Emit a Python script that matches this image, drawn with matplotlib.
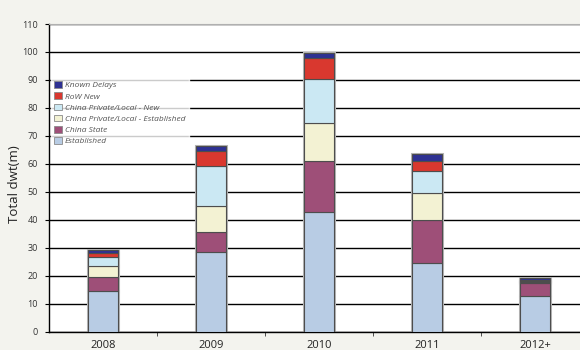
import matplotlib.pyplot as plt
import numpy as np
from matplotlib.patches import Patch

plt.rcParams['font.family'] = ['Open Sans', 'DejaVu Sans']

# Capacity by year, millions dwt
years = ['2008', '2009', '2010', '2011', '2012+']
established = [14.7, 28.4, 42.9, 24.5, 12.8]
china_state = [4.9, 7.3, 18.1, 15.3, 4.6]
china_private_est = [3.9, 9.1, 13.6, 9.8, 0.3]
china_private_new = [3.1, 14.4, 15.8, 8.0, 0.4]
row_new = [1.4, 5.3, 7.4, 3.3, 0.5]
known_delays = [1.2, 1.8, 2.0, 2.8, 0.5]

series = [
    ('Established', established, '#b8cce4'),
    ('China State', china_state, '#9e4f78'),
    ('China Private/Local - Established', china_private_est, '#f3f2d3'),
    ('China Private/Local - New', china_private_new, '#cbe8f3'),
    ('RoW New', row_new, '#d9382f'),
    ('Known Delays', known_delays, '#2e3192'),
]

fig = plt.figure(figsize=(5.8, 3.5), dpi=100, facecolor='#f3f3ee')
ax = fig.add_axes([49 / 580, 18.3 / 350, 540 / 580, 307.7 / 350])
ax.set_facecolor('white')

x = np.arange(len(years))
bottom = np.zeros(len(years))
handles = []
for name, vals, color in series:
    # soft grey halo behind each segment, then the segment itself
    ax.bar(x, vals, width=0.28, bottom=bottom, color='none',
           edgecolor='#b5b5b5', linewidth=2.2, zorder=2.5)
    ax.bar(x, vals, width=0.28, bottom=bottom, color=color,
           edgecolor='#4d4d4d', linewidth=0.8, zorder=3)
    bottom += np.array(vals)
    handles.append(Patch(facecolor=color, edgecolor='#8a8a8a', linewidth=0.6, label=name))

ax.set_xlim(-0.5, len(years) - 0.5)
ax.set_ylim(0, 110)
ax.set_yticks(range(0, 111, 10))
ax.yaxis.grid(True, color='black', linewidth=1.0, zorder=0)
ax.set_axisbelow(True)

ax.set_xticks(x)
ax.set_xticklabels(years, fontsize=8, color='#222222')
ax.set_xticks(np.arange(0.5, len(years) - 0.5, 1), minor=True)
ax.tick_params(axis='x', which='major', length=0, pad=6)
ax.tick_params(axis='x', which='minor', length=3, color='#333333')
ax.tick_params(axis='y', length=3, labelsize=6.5, labelcolor='#333333', pad=5)

for s in ['left', 'bottom']:
    ax.spines[s].set_color('black')
    ax.spines[s].set_linewidth(1.0)
ax.spines['top'].set_color('#b0b0b0')
ax.spines['top'].set_linewidth(0.8)
ax.spines['right'].set_visible(False)

fig.text(15 / 580, 1 - 184 / 350, 'Total dwt(m)', rotation=90, ha='center',
         va='center', fontsize=9.5, color='#222222')

leg = ax.legend(handles=handles[::-1], loc='upper left', bbox_to_anchor=(0.0, 0.832),
                fontsize=6.0, frameon=True, facecolor='white', edgecolor='white',
                fancybox=False, handlelength=0.85, handleheight=0.85,
                handletextpad=0.4, labelspacing=0.36, borderpad=0.45, borderaxespad=0.2)
leg.set_zorder(2)
for t in leg.get_texts():
    t.set_fontstyle('italic')
    t.set_color('#555555')

fig.savefig('out.png', dpi=100, facecolor=fig.get_facecolor())
